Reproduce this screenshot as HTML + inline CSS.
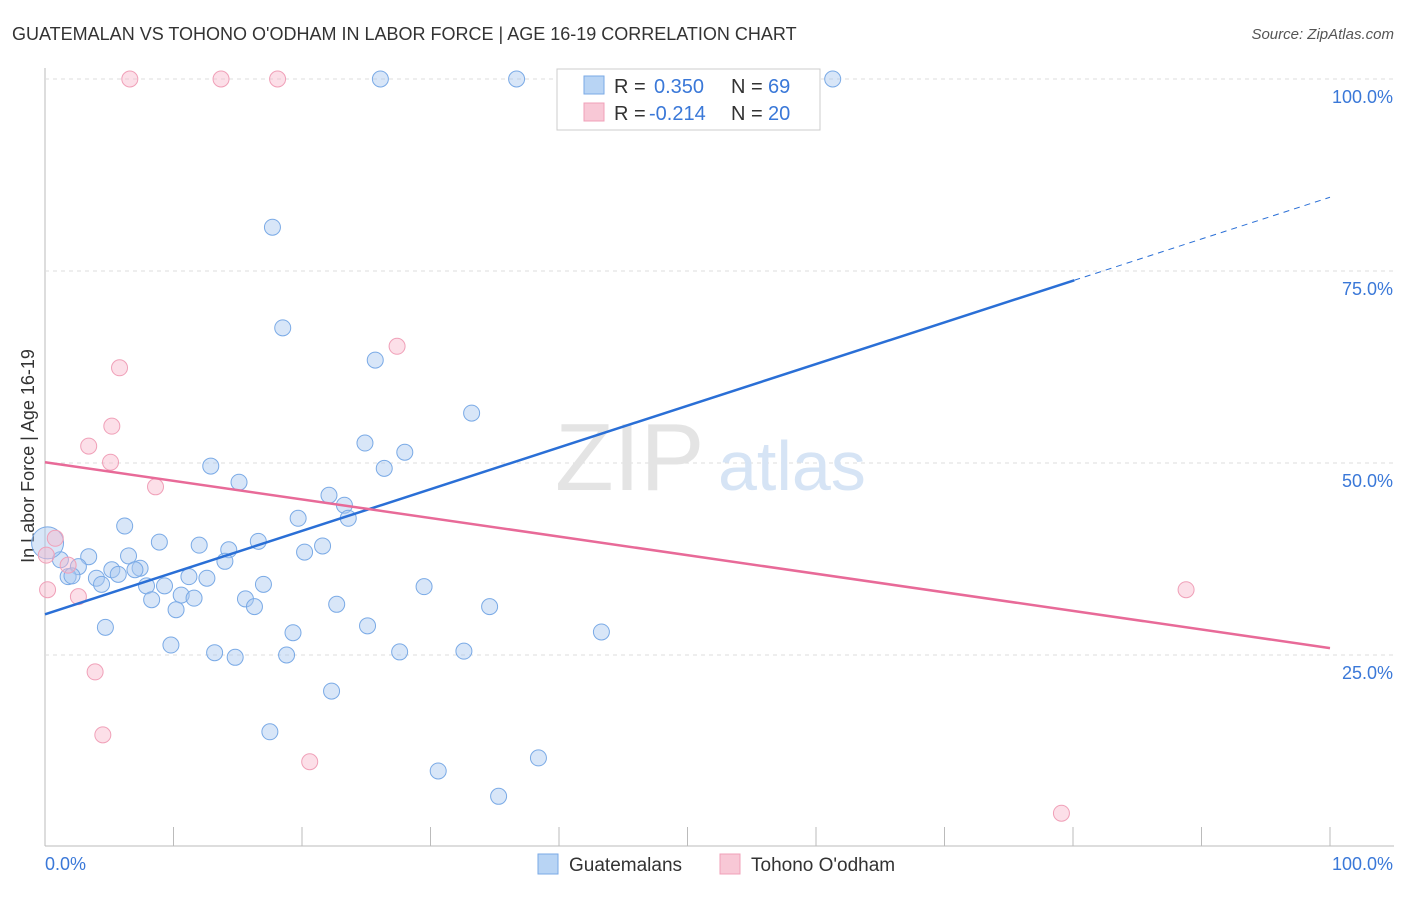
<!DOCTYPE html>
<html><head><meta charset="utf-8"><style>
body{margin:0;background:#fff;font-family:"Liberation Sans",sans-serif;}
svg text{font-family:"Liberation Sans",sans-serif;}
</style></head><body>
<svg id="chart" width="1406" height="892" xmlns="http://www.w3.org/2000/svg">
<text x="12" y="40" font-size="18" fill="#333">GUATEMALAN VS TOHONO O'ODHAM IN LABOR FORCE | AGE 16-19 CORRELATION CHART</text>
<text x="1394" y="39" font-size="15" fill="#555" text-anchor="end" font-style="italic">Source: ZipAtlas.com</text>
<g id="grid"></g>
<text x="555" y="490" font-size="96" fill="#e4e4e4" font-family="Liberation Serif">ZIP</text>
<text x="718" y="490" font-size="70" fill="#d6e4f5">atlas</text>
<text transform="translate(34,456) rotate(-90)" font-size="18" fill="#333" text-anchor="middle">In Labor Force | Age 16-19</text>
<g id="marks"></g>
<g>
<rect x="557" y="69" width="263" height="61" fill="#fff" stroke="#ccc"/>
<rect x="584" y="76" width="20" height="18" fill="#b8d4f4" stroke="#7aaae6"/>
<text x="614" y="93" font-size="20" fill="#333">R =</text>
<text x="654" y="93" font-size="20" fill="#3a78d8">0.350</text>
<text x="731" y="93" font-size="20" fill="#333">N =</text>
<text x="768" y="93" font-size="20" fill="#3a78d8">69</text>
<rect x="584" y="103" width="20" height="18" fill="#f8c8d6" stroke="#f0a0b8"/>
<text x="614" y="120" font-size="20" fill="#333">R =</text>
<text x="649" y="120" font-size="20" fill="#3a78d8">-0.214</text>
<text x="731" y="120" font-size="20" fill="#333">N =</text>
<text x="768" y="120" font-size="20" fill="#3a78d8">20</text>
</g>
<g>
<rect x="538" y="854" width="20" height="20" fill="#b8d4f4" stroke="#7aaae6"/>
<text x="569" y="871" font-size="19" fill="#333">Guatemalans</text>
<rect x="720" y="854" width="20" height="20" fill="#f8c8d6" stroke="#f0a0b8"/>
<text x="751" y="871" font-size="19" fill="#333">Tohono O'odham</text>
</g>
</svg>
<script>
const blueX=[26.1,36.7,61.3,17.7,18.5,25.7,33.2,24.9,28.0,26.4,12.9,15.1,22.1,23.3,23.6,19.7,6.2,8.9,16.6,12.0,21.6,14.3,20.2,6.5,3.4,14.0,1.2,2.6,5.2,7.4,7.0,5.7,1.8,2.1,4.0,4.4,11.2,12.6,7.9,9.3,17.0,29.5,10.6,11.6,8.3,15.6,16.3,10.2,22.7,34.6,4.7,25.1,19.3,43.3,9.8,13.2,14.8,18.8,27.6,32.6,22.3,17.5,38.4,30.6,35.3,0.2];
const blueY=[100,100,100,80.7,67.6,63.4,56.5,52.6,51.4,49.3,49.6,47.5,45.8,44.5,42.8,42.8,41.8,39.7,39.8,39.3,39.2,38.7,38.4,37.9,37.8,37.2,37.4,36.5,36.1,36.3,36.1,35.5,35.2,35.3,35.0,34.2,35.2,35.0,34.0,34.0,34.2,33.9,32.8,32.4,32.2,32.3,31.3,30.9,31.6,31.3,28.6,28.8,27.9,28.0,26.3,25.3,24.7,25.0,25.4,25.5,20.3,15.0,11.6,9.9,6.6,39.6];
const pinkX=[6.6,13.7,18.1,27.4,5.8,5.2,3.4,5.1,8.6,0.8,1.8,2.6,0.2,3.9,4.5,20.6,79.1,88.8,0.1];
const pinkY=[100,100,100,65.2,62.4,54.8,52.2,50.1,46.9,40.2,36.7,32.6,33.5,22.8,14.6,11.1,4.4,33.5,38];
const blueTrend=[30.3,84.6];
const pinkTrend=[50.1,25.9];
const yTicks=[25,50,75,100];
const xTicks=[0,10,20,30,40,50,60,70,80,90,100];
const NS="http://www.w3.org/2000/svg";
const X=v=>45+v*12.85, Y=v=>847-v*7.68;
function mk(t,a,p){const e=document.createElementNS(NS,t);for(const k in a)e.setAttribute(k,a[k]);p.appendChild(e);return e;}
const grid=document.getElementById('grid'),marks=document.getElementById('marks');
mk('line',{x1:45,y1:68,x2:45,y2:846,stroke:'#bbb'},grid);
mk('line',{x1:45,y1:846,x2:1394,y2:846,stroke:'#bbb'},grid);
yTicks.forEach(t=>{
 const l=mk('line',{x1:45,y1:Y(t),x2:1394,y2:Y(t),stroke:'#ddd','stroke-dasharray':'4,4'},grid);
 
 
 const tx=mk('text',{x:1393,y:Y(t)+24,'font-size':18,fill:'#3a78d8','text-anchor':'end'},grid);
 tx.textContent=t.toFixed(1)+'%';
 
 
});
xTicks.forEach(t=>{
 const l=mk('line',{x1:X(t),y1:827,x2:X(t),y2:846,stroke:'#bbb'},grid);
 
 
});
[[0,'0.0%','start',45],[100,'100.0%','end',1393]].forEach(a=>{
 const tx=mk('text',{x:a[3],y:870,'font-size':18,fill:'#3a78d8','text-anchor':a[2]},grid);
 tx.textContent=a[1];
 
 
});
blueX.forEach((v,i)=>{
 const big=i===blueX.length-1;
 const c=mk('circle',{cx:X(v),cy:Y(blueY[i]),r:big?16:8,fill:'rgba(168,200,240,0.45)',stroke:'#7aaae6','stroke-width':1},marks);
 
 
});
pinkX.forEach((v,i)=>{
 const c=mk('circle',{cx:X(v),cy:Y(pinkY[i]),r:8,fill:'rgba(248,184,204,0.45)',stroke:'#f0a0b8','stroke-width':1},marks);
 
 
});
const bAt=x=>blueTrend[0]+(blueTrend[1]-blueTrend[0])*x/100;
const bl=mk('line',{x1:X(0),y1:Y(bAt(0)),x2:X(80.1),y2:Y(bAt(80.1)),stroke:'#2a6fd6','stroke-width':2.5},marks);


const bd=mk('line',{x1:X(80.1),y1:Y(bAt(80.1)),x2:X(100),y2:Y(bAt(100)),stroke:'#2a6fd6','stroke-width':1,'stroke-dasharray':'6,5'},marks);


const pl=mk('line',{x1:X(0),y1:Y(pinkTrend[0]),x2:X(100),y2:Y(pinkTrend[1]),stroke:'#e86a98','stroke-width':2.5},marks);


</script>
</body></html>
